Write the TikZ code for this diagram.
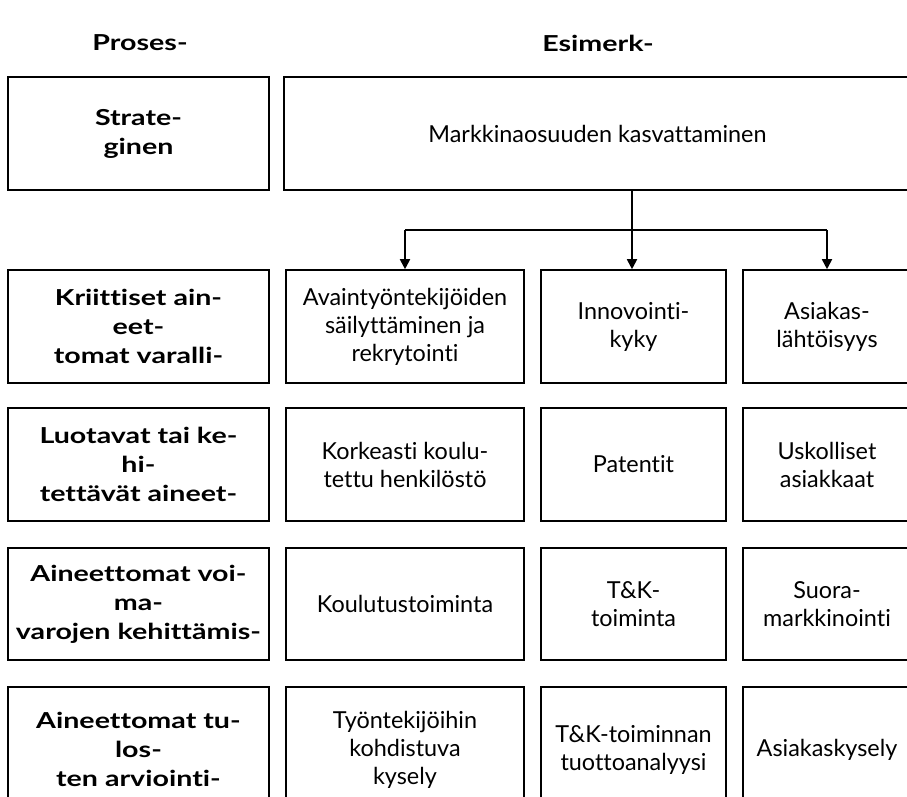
\documentclass[tikz,border=0pt]{standalone}
\usepackage{fontspec}
\setmainfont{Lato}[Ligatures=NoCommon]
\newfontfamily\labfont{Lato Bold}[FakeStretch=1.3,Ligatures=NoCommon]
\usetikzlibrary{arrows.meta}
\begin{document}
\begin{tikzpicture}[x=1pt,y=-1pt,
  headtext/.style={inner sep=0pt, font=\fontsize{22}{29}\labfont},
  labbox/.style={draw, line width=2.6pt, minimum width=261pt, inner sep=0pt, align=center, font=\fontsize{22}{29}\labfont},
  exbox/.style={draw, line width=1.6pt, inner sep=0pt, align=center, font=\fontsize{23.4}{28}\selectfont},
  conn/.style={line width=1.8pt},
  arr/.style={line width=1.8pt, -{Triangle[width=10pt,length=10pt]}}]
\useasboundingbox (0,0) rectangle (907,796);
\clip (0,0) rectangle (907,796);
\node[headtext] (head0) at (140,43) {Proses-};
\node[headtext] (head1) at (598,43) {Esimerk-};
\node[labbox, minimum height=113pt] (lab0) at (138.5,133.5) {Strate-\\ginen};
\node[exbox, minimum width=627pt, minimum height=113pt] (ex0) at (597.5,133.5) {Markkinaosuuden kasvattaminen};
\node[labbox, minimum height=113pt] (lab1) at (138.5,326.5) {Kriittiset ain-\\eet-\\tomat varalli-};
\node[exbox, minimum width=238pt, minimum height=113pt] (ex1a) at (405,326.5) {Avaintyöntekijöiden\\säilyttäminen ja\\rekrytointi};
\node[exbox, minimum width=185pt, minimum height=113pt] (ex1b) at (633.5,326.5) {Innovointi-\\kyky};
\node[exbox, minimum width=168pt, minimum height=113pt] (ex1c) at (827,326.5) {Asiakas-\\lähtöisyys};
\node[labbox, minimum height=113pt] (lab2) at (138.5,464.5) {Luotavat tai ke-\\hi-\\tettävät aineet-};
\node[exbox, minimum width=238pt, minimum height=113pt] (ex2a) at (405,464.5) {Korkeasti koulu-\\tettu henkilöstö};
\node[exbox, minimum width=185pt, minimum height=113pt] (ex2b) at (633.5,464.5) {Patentit};
\node[exbox, minimum width=168pt, minimum height=113pt] (ex2c) at (827,464.5) {Uskolliset\\asiakkaat};
\node[labbox, minimum height=112pt] (lab3) at (138.5,604) {Aineettomat voi-\\ma-\\varojen kehittämis-};
\node[exbox, minimum width=238pt, minimum height=112pt] (ex3a) at (405,604) {Koulutustoiminta};
\node[exbox, minimum width=185pt, minimum height=112pt] (ex3b) at (633.5,604) {T\&K-\\toiminta};
\node[exbox, minimum width=168pt, minimum height=112pt] (ex3c) at (827,604) {Suora-\\markkinointi};
\node[labbox, minimum height=125pt] (lab4) at (138.5,749.5) {Aineettomat tu-\\los-\\ten arviointi-};
\node[exbox, minimum width=238pt, minimum height=125pt] (ex4a) at (405,749.5) {Työntekijöihin\\kohdistuva\\kysely};
\node[exbox, minimum width=185pt, minimum height=125pt] (ex4b) at (633.5,749.5) {T\&K-toiminnan\\tuottoanalyysi};
\node[exbox, minimum width=168pt, minimum height=125pt] (ex4c) at (827,749.5) {Asiakaskysely};
\coordinate (fork) at (632,230);
\draw[arr] (ex0.south -| fork) -- (fork |- ex1b.north);
\draw[conn] (fork -| ex1a.north) -- (fork -| ex1c.north);
\draw[arr] (fork -| ex1a.north) -- (ex1a.north);
\draw[arr] (fork -| ex1c.north) -- (ex1c.north);
\end{tikzpicture}
\end{document}
